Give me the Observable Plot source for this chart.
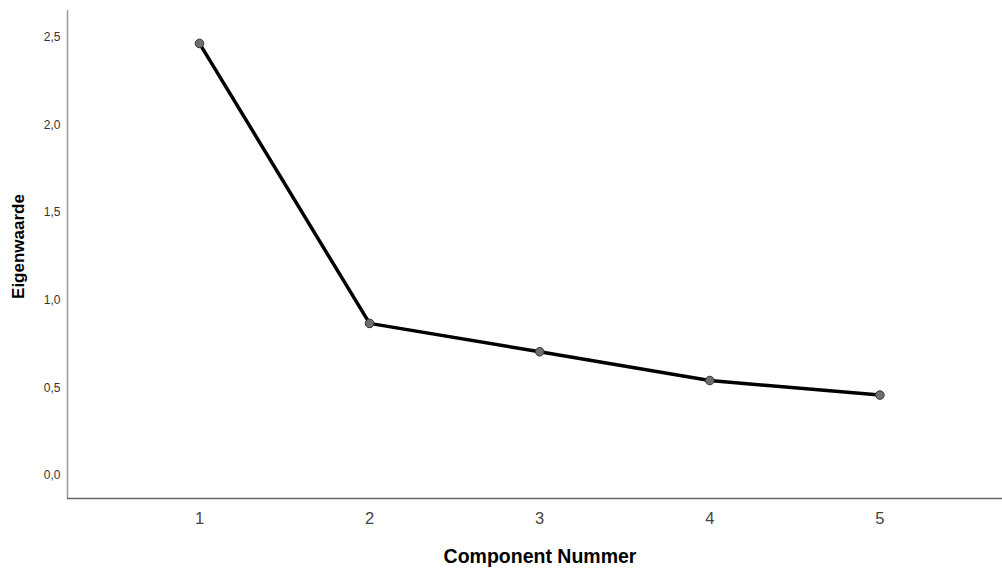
<!DOCTYPE html>
<html><head><meta charset="utf-8">
<script src="https://cdn.jsdelivr.net/npm/d3@7"></script>
<script src="https://cdn.jsdelivr.net/npm/@observablehq/plot@0.6"></script>
<style>
body{margin:0;background:#fff;}
svg{font-family:"Liberation Sans",Arial,sans-serif;}
</style></head><body>
<div id="chart"></div>
<script>
const components = [1, 2, 3, 4, 5];
const eigenvalues = [2.465, 0.868, 0.706, 0.542, 0.459];
const yTicks = [0, 0.5, 1.0, 1.5, 2.0, 2.5];
const xTitle = "Component Nummer";
const yTitle = "Eigenwaarde";
const data = components.map((c, i) => ({component: c, value: eigenvalues[i]}));
const fmt = d => d.toFixed(1).replace(".", ",");

const chart = Plot.plot({
  width: 1002, height: 571,
  marginLeft: 67, marginRight: 0, marginTop: 10, marginBottom: 73,
  x: {domain: [0.224, 5.721]},
  y: {domain: [-0.131, 2.653]},
  marks: [
    Plot.axisY({ticks: yTicks, tickFormat: fmt, tickSize: 0, tickPadding: 7, fontSize: 12, color: "#333", label: null}),
    Plot.axisX({ticks: components, tickFormat: d => String(d), tickSize: 0, tickPadding: 14, fontSize: 16.5, color: "#444", label: null}),
    Plot.ruleX([0.224], {stroke: "#999", strokeWidth: 1.5}),
    Plot.ruleY([-0.131], {stroke: "#666", strokeWidth: 1.5}),
    Plot.line(data, {x: "component", y: "value", stroke: "#000", strokeWidth: 3.5}),
    Plot.dot(data, {x: "component", y: "value", r: 4.3, fill: "#6e6e6e", stroke: "#333", strokeWidth: 1}),
    Plot.text([yTitle], {frameAnchor: "left", textAnchor: "middle", lineAnchor: "middle", rotate: -90, dx: -49, dy: -8, fontSize: 17, fontWeight: "bold", fill: "#000"}),
    Plot.text([xTitle], {frameAnchor: "bottom", textAnchor: "middle", lineAnchor: "middle", dx: 5, dy: 58, fontSize: 19.5, fontWeight: "bold", fill: "#000"})
  ]
});
document.getElementById("chart").appendChild(chart);
</script></body></html>
